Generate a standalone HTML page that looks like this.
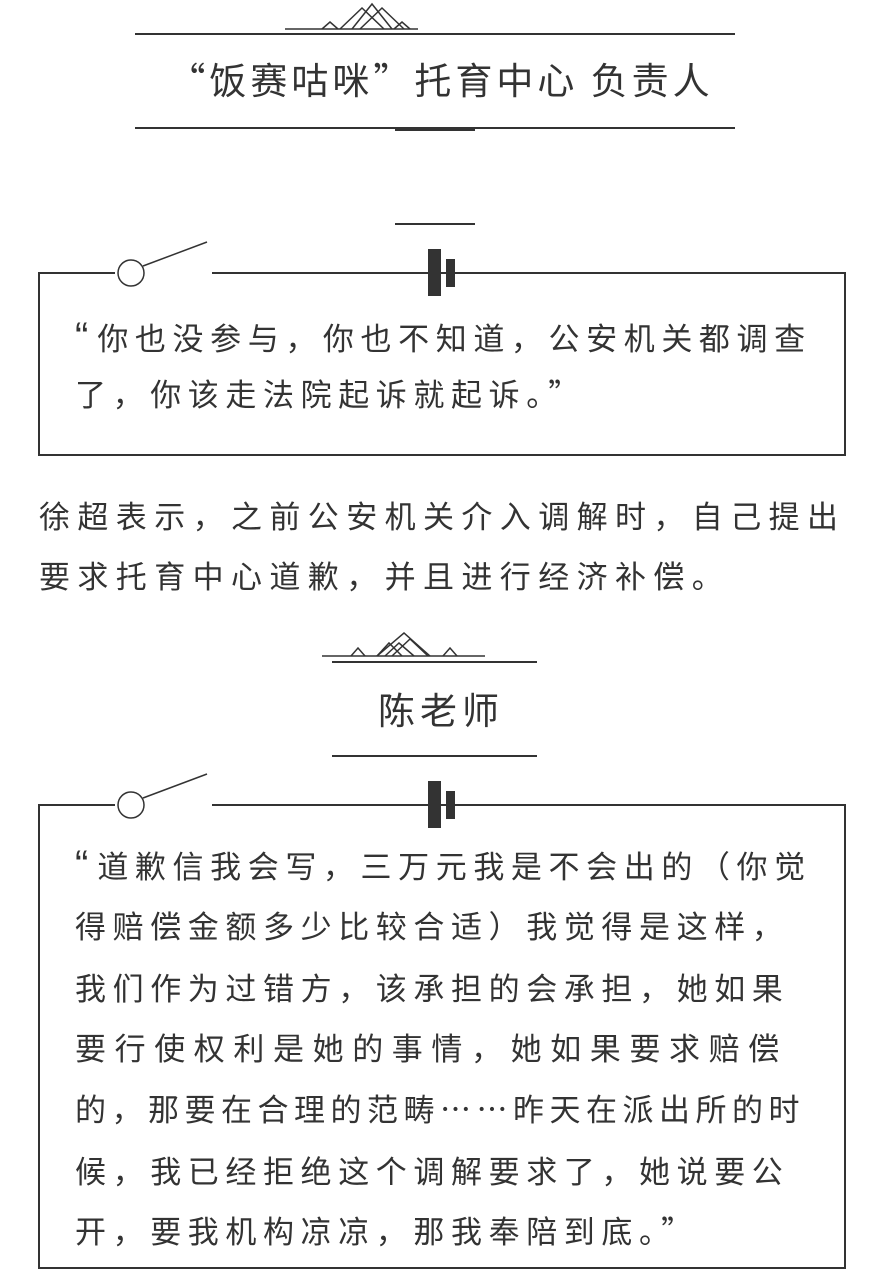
<!DOCTYPE html>
<html><head><meta charset="utf-8"><style>
body{margin:0;width:882px;height:1278px;background:#fff;position:relative;overflow:hidden;font-family:"Noto Sans CJK SC","Liberation Sans",sans-serif;color:#333}
.t{position:absolute;white-space:nowrap;font-size:31px;letter-spacing:6.6px;line-height:40px}
.p{letter-spacing:7.4px}
.q{font-family:"Liberation Sans",sans-serif;font-size:40px;letter-spacing:9px;line-height:30px}
.h{position:absolute;white-space:nowrap;font-size:37px;line-height:44px;left:0;width:882px;text-align:center}
svg{position:absolute;left:0;top:0}
</style></head><body>
<svg width="882" height="1278" fill="none" stroke="#333">
<g stroke-width="1.5">
<polyline points="285,29 418,29"/>
<polyline points="322,29 330,22 338,29"/>
<polyline points="340,29 362,8 384,29"/>
<polyline points="352,29 372,4 392,29"/>
<polyline points="360,29 382,8 404,29"/>
<polyline points="394,29 402,22 410,29"/>
</g>
<line x1="135" y1="34" x2="735" y2="34" stroke-width="2"/>
<line x1="135" y1="128" x2="735" y2="128" stroke-width="2"/>
<rect x="395" y="128" width="80" height="3" fill="#333" stroke="none"/>

<line x1="395" y1="224" x2="475" y2="224" stroke-width="2"/>
<polyline points="115,273 39,273 39,455 845,455 845,273 212,273" stroke-width="2"/>
<circle cx="131" cy="273" r="13" stroke-width="1.5" fill="#fff"/>
<line x1="143" y1="266" x2="207" y2="242" stroke-width="1.5"/>
<rect x="428" y="249" width="13" height="47" fill="#333" stroke="none"/>
<rect x="446" y="259" width="9" height="28" fill="#333" stroke="none"/>

<g stroke-width="1.5">
<polyline points="322,656 485,656"/>
<polyline points="351,656 358,648 365,656"/>
<polyline points="377,656 389,643 402,656 "/>
<polyline points="377,656 404,633 430,656"/>
<polyline points="392,656 410,639 428,656"/>
<polyline points="385,656 399,643 414,656"/>
<polyline points="443,656 450,648 457,656"/>
</g>
<line x1="332" y1="662" x2="537" y2="662" stroke-width="2"/>
<line x1="332" y1="756" x2="537" y2="756" stroke-width="2"/>

<polyline points="115,805 39,805 39,1268 845,1268 845,805 212,805" stroke-width="2"/>
<circle cx="131" cy="805" r="13" stroke-width="1.5" fill="#fff"/>
<line x1="143" y1="798" x2="207" y2="774" stroke-width="1.5"/>
<rect x="428" y="781" width="13" height="47" fill="#333" stroke="none"/>
<rect x="446" y="791" width="9" height="28" fill="#333" stroke="none"/>
</svg>

<div class="h" style="top:56px;letter-spacing:4px">“饭赛咕咪”托育中心 负责人</div>
<div class="h" style="top:686px;letter-spacing:5px">陈老师</div>

<div class="t" style="left:75px;top:317px"><span class="q">“</span>你也没参与，你也不知道，公安机关都调查</div>
<div class="t" style="left:75px;top:373px">了，你该走法院起诉就起诉。”</div>

<div class="t p" style="left:39px;top:495px">徐超表示，之前公安机关介入调解时，自己提出</div>
<div class="t p" style="left:39px;top:555px">要求托育中心道歉，并且进行经济补偿。</div>

<div class="t" style="left:75px;top:845px"><span class="q">“</span>道歉信我会写，三万元我是不会出的（你觉</div>
<div class="t" style="left:75px;top:905px">得赔偿金额多少比较合适）我觉得是这样，</div>
<div class="t" style="left:75px;top:967px">我们作为过错方，该承担的会承担，她如果</div>
<div class="t" style="left:75px;top:1027px;letter-spacing:8.6px">要行使权利是她的事情，她如果要求赔偿</div>
<div class="t" style="left:75px;top:1088px;letter-spacing:5.5px">的，那要在合理的范畴……昨天在派出所的时</div>
<div class="t" style="left:75px;top:1150px">候，我已经拒绝这个调解要求了，她说要公</div>
<div class="t" style="left:75px;top:1210px">开，要我机构凉凉，那我奉陪到底。”</div>
</body></html>
